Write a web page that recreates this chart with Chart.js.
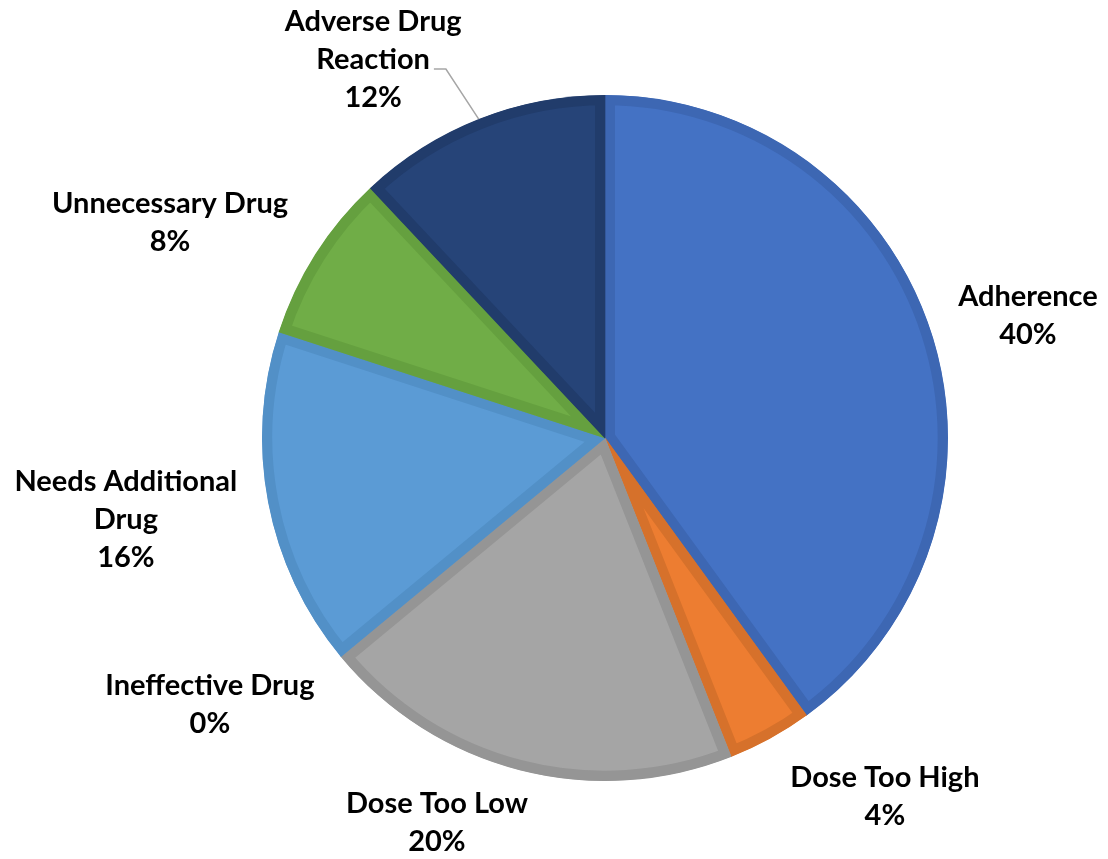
<!DOCTYPE html>
<html>
<head>
<meta charset="utf-8">
<script src="https://cdn.jsdelivr.net/npm/chart.js@4"></script>
<style>
  html, body { margin: 0; padding: 0; background: #fff; }
  #wrap { width: 1108px; height: 859px; position: relative; }
</style>
</head>
<body>
<div id="wrap"><canvas id="c" width="1108" height="859"></canvas></div>
<script>
// ---- data ----
const categories = ["Adherence", "Dose Too High", "Dose Too Low", "Ineffective Drug", "Needs Additional Drug", "Unnecessary Drug", "Adverse Drug Reaction"];
const values = [40, 4, 20, 0, 16, 8, 12];
const labelLines = [["Adherence"], ["Dose Too High"], ["Dose Too Low"], ["Ineffective Drug"], ["Needs Additional", "Drug"], ["Unnecessary Drug"], ["Adverse Drug", "Reaction"]];

// ---- styling / layout ----
const fills = ["#4472C4", "#ED7D31", "#A5A5A5", "#FFC000", "#5B9BD5", "#70AD47", "#264478"];
const borders = ["#3D67B3", "#D6712B", "#959595", "#E6AD00", "#5290C7", "#65A03F", "#213C6B"];
// label block centres, as fractions of the pie radius from the pie centre
const labelPos = [[1.233, -0.356], [0.816, 1.047], [-0.490, 1.120], [-1.152, 0.776], [-1.397, 0.239], [-1.268, -0.627], [-0.676, -1.102]];
const leaderFor = [6];
const FONT = "bold 29px Lato, 'Open Sans', sans-serif";
const LINE_H = 38;

const labelPlugin = {
  id: 'pieLabels',
  afterDatasetsDraw(chart) {
    const ctx = chart.ctx;
    const meta = chart.getDatasetMeta(0);
    const total = values.reduce((a, b) => a + b, 0);
    ctx.save();
    ctx.font = FONT;
    ctx.fillStyle = "#000";
    ctx.textAlign = "center";
    ctx.textBaseline = "middle";
    meta.data.forEach((arc, i) => {
      const R = arc.outerRadius;
      const cx = arc.x, cy = arc.y;
      const bx = cx + labelPos[i][0] * R;
      const by = cy + labelPos[i][1] * R;
      const lines = labelLines[i].concat([Math.round(values[i] / total * 100) + "%"]);
      const top = by - (lines.length - 1) * LINE_H / 2;
      lines.forEach((t, k) => ctx.fillText(t, bx, top + k * LINE_H));
      if (leaderFor.includes(i)) {
        const mid = (arc.startAngle + arc.endAngle) / 2;
        const ex = cx + Math.cos(mid) * R, ey = cy + Math.sin(mid) * R;
        const w = ctx.measureText(labelLines[i][1]).width;
        const ly = top + LINE_H + 9;
        const lx = bx + w / 2 + 4;
        ctx.strokeStyle = "#A6A6A6";
        ctx.lineWidth = 1.5;
        ctx.beginPath();
        ctx.moveTo(lx, ly);
        ctx.lineTo(lx + 12, ly);
        ctx.lineTo(ex, ey);
        ctx.stroke();
      }
    });
    ctx.restore();
  }
};

new Chart(document.getElementById('c'), {
  type: 'pie',
  data: {
    labels: categories,
    datasets: [{
      data: values,
      backgroundColor: fills,
      borderColor: borders,
      borderWidth: 10,
      borderAlign: 'inner'
    }]
  },
  options: {
    responsive: false,
    animation: false,
    layout: { padding: { left: 262, right: 160, top: 95, bottom: 78 } },
    plugins: { legend: { display: false }, tooltip: { enabled: false } }
  },
  plugins: [labelPlugin]
});
</script>
</body>
</html>
